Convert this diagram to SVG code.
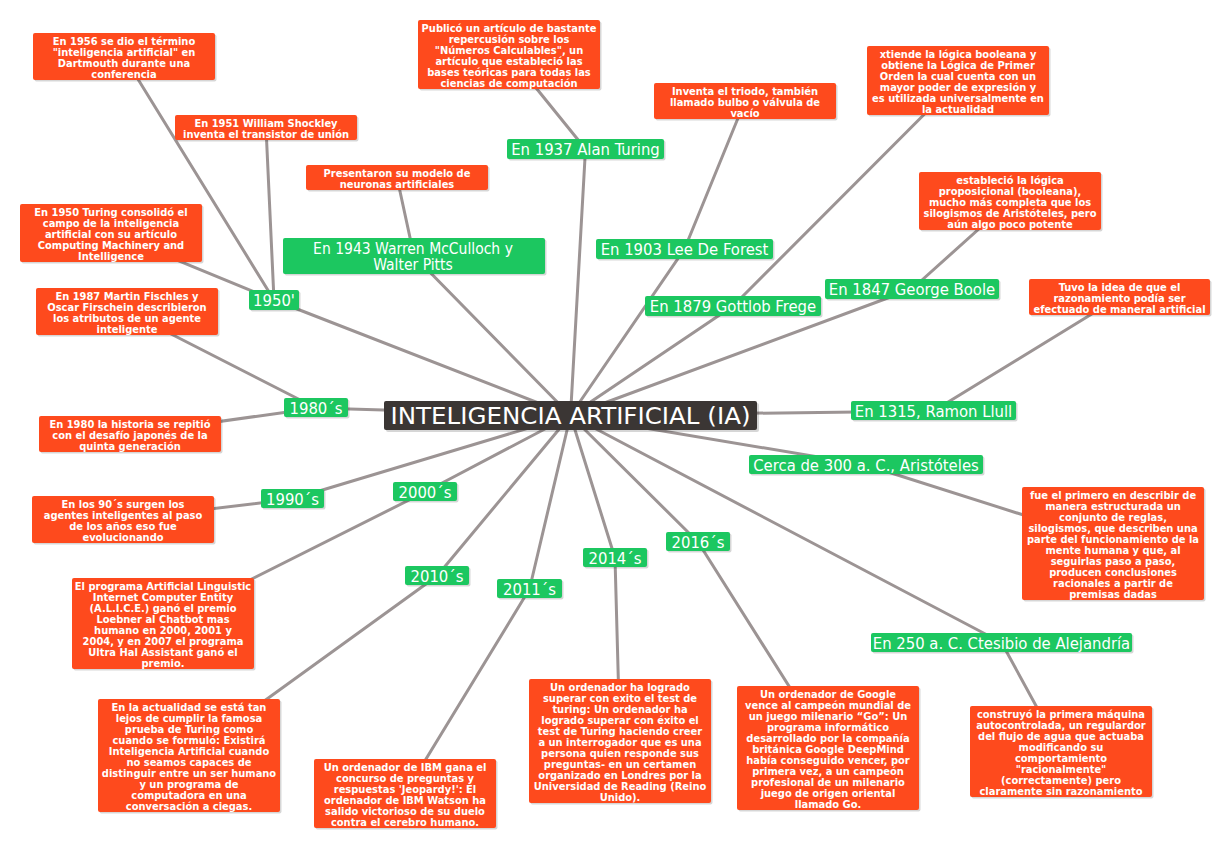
<svg xmlns="http://www.w3.org/2000/svg" width="1230" height="849" viewBox="0 0 1230 849">
<style>
text{font-family:"DejaVu Sans Condensed","DejaVu Sans",sans-serif;font-stretch:condensed;fill:#fff;text-anchor:middle}
.c line{stroke:#9c9494;stroke-width:3;stroke-linecap:round}
.o{fill:#fe4a1d}
.g{fill:#1cc760}
.k{fill:#3b3634}
.s{fill:#000;opacity:.16}
.ot{font-size:11px;font-weight:bold}
.gt{font-size:16.5px}
.wt{font-size:15.5px}
</style>
<rect width="1230" height="849" fill="#fff"/>
<g class="c" id="connectors">
<line x1="570.5" y1="415.5" x2="274" y2="300"/>
<line x1="570.5" y1="415.5" x2="414" y2="256"/>
<line x1="570.5" y1="415.5" x2="585.5" y2="149"/>
<line x1="570.5" y1="415.5" x2="684.5" y2="249"/>
<line x1="570.5" y1="415.5" x2="733" y2="306"/>
<line x1="570.5" y1="415.5" x2="912" y2="289"/>
<line x1="570.5" y1="415.5" x2="933.5" y2="411"/>
<line x1="570.5" y1="415.5" x2="866" y2="465"/>
<line x1="570.5" y1="415.5" x2="1001.5" y2="642.5"/>
<line x1="570.5" y1="415.5" x2="316" y2="408"/>
<line x1="570.5" y1="415.5" x2="292.5" y2="499"/>
<line x1="570.5" y1="415.5" x2="425" y2="492"/>
<line x1="570.5" y1="415.5" x2="437" y2="576"/>
<line x1="570.5" y1="415.5" x2="529.5" y2="589"/>
<line x1="570.5" y1="415.5" x2="615" y2="558"/>
<line x1="570.5" y1="415.5" x2="698" y2="542"/>
<line x1="274" y1="300" x2="124" y2="56.5"/>
<line x1="274" y1="300" x2="266" y2="127.5"/>
<line x1="274" y1="300" x2="111" y2="233"/>
<line x1="414" y1="256" x2="397" y2="177.5"/>
<line x1="585.5" y1="149" x2="509" y2="54.5"/>
<line x1="684.5" y1="249" x2="745" y2="101"/>
<line x1="733" y1="306" x2="958" y2="80.5"/>
<line x1="912" y1="289" x2="1010" y2="201"/>
<line x1="933.5" y1="411" x2="1119.5" y2="297"/>
<line x1="866" y1="465" x2="1113" y2="543.5"/>
<line x1="1001.5" y1="642.5" x2="1061" y2="751.5"/>
<line x1="316" y1="408" x2="127" y2="311.5"/>
<line x1="316" y1="408" x2="130" y2="434"/>
<line x1="292.5" y1="499" x2="123" y2="519.5"/>
<line x1="425" y1="492" x2="163" y2="623.5"/>
<line x1="437" y1="576" x2="189" y2="755.5"/>
<line x1="529.5" y1="589" x2="405" y2="793.5"/>
<line x1="615" y1="558" x2="620" y2="741"/>
<line x1="698" y1="542" x2="828" y2="748"/>
</g>

<g id="center">
<rect class="s" x="386" y="403" width="373" height="29" rx="2"/>
<rect class="k" x="384" y="401" width="373" height="29" rx="2"/>
<text x="570.5" y="424" font-size="23" textLength="360" lengthAdjust="spacingAndGlyphs">INTELIGENCIA ARTIFICIAL (IA)</text>
</g>

<g id="n1950">
<rect class="s" x="250.5" y="291.5" width="50" height="20" rx="2"/>
<rect class="g" x="249" y="290" width="50" height="20" rx="2"/>
<text class="gt" x="274" y="306">1950'</text>
</g>
<g id="nWarren">
<rect class="s" x="284.5" y="239.5" width="262" height="36" rx="2"/>
<rect class="g" x="283" y="238" width="262" height="36" rx="2"/>
<text class="wt" x="413" y="254">En 1943 Warren McCulloch y</text>
<text class="wt" x="413" y="270">Walter Pitts</text>
</g>
<g id="nTuring">
<rect class="s" x="508.5" y="140.5" width="157" height="20" rx="2"/>
<rect class="g" x="507" y="139" width="157" height="20" rx="2"/>
<text class="gt" x="585.5" y="155">En 1937 Alan Turing</text>
</g>
<g id="nForest">
<rect class="s" x="597.5" y="240.5" width="177" height="20" rx="2"/>
<rect class="g" x="596" y="239" width="177" height="20" rx="2"/>
<text class="gt" x="684.5" y="255">En 1903 Lee De Forest</text>
</g>
<g id="nFrege">
<rect class="s" x="646.5" y="297.5" width="176" height="20" rx="2"/>
<rect class="g" x="645" y="296" width="176" height="20" rx="2"/>
<text class="gt" x="733" y="312">En 1879 Gottlob Frege</text>
</g>
<g id="nBoole">
<rect class="s" x="826.5" y="280.5" width="174" height="20" rx="2"/>
<rect class="g" x="825" y="279" width="174" height="20" rx="2"/>
<text class="gt" x="912" y="295">En 1847 George Boole</text>
</g>
<g id="nLlull">
<rect class="s" x="852.5" y="402.5" width="165" height="19" rx="2"/>
<rect class="g" x="851" y="401" width="165" height="19" rx="2"/>
<text class="gt" x="933.5" y="416.5">En 1315, Ramon Llull</text>
</g>
<g id="nAristoteles">
<rect class="s" x="750.5" y="456.5" width="234" height="19" rx="2"/>
<rect class="g" x="749" y="455" width="234" height="19" rx="2"/>
<text class="gt" x="866" y="470.5">Cerca de 300 a. C., Aristóteles</text>
</g>
<g id="nCtesibio">
<rect class="s" x="872.5" y="634.5" width="261" height="19" rx="2"/>
<rect class="g" x="871" y="633" width="261" height="19" rx="2"/>
<text class="gt" x="1001.5" y="648.5">En 250 a. C. Ctesibio de Alejandría</text>
</g>
<g id="n1980s">
<rect class="s" x="285.5" y="399.5" width="64" height="19" rx="2"/>
<rect class="g" x="284" y="398" width="64" height="19" rx="2"/>
<text class="gt" x="316" y="413.5">1980´s</text>
</g>
<g id="n1990s">
<rect class="s" x="262.5" y="490.5" width="63" height="19" rx="2"/>
<rect class="g" x="261" y="489" width="63" height="19" rx="2"/>
<text class="gt" x="292.5" y="504.5">1990´s</text>
</g>
<g id="n2000s">
<rect class="s" x="394.5" y="483.5" width="64" height="19" rx="2"/>
<rect class="g" x="393" y="482" width="64" height="19" rx="2"/>
<text class="gt" x="425" y="497.5">2000´s</text>
</g>
<g id="n2010s">
<rect class="s" x="406.5" y="567.5" width="64" height="19" rx="2"/>
<rect class="g" x="405" y="566" width="64" height="19" rx="2"/>
<text class="gt" x="437" y="581.5">2010´s</text>
</g>
<g id="n2011s">
<rect class="s" x="498.5" y="580.5" width="65" height="19" rx="2"/>
<rect class="g" x="497" y="579" width="65" height="19" rx="2"/>
<text class="gt" x="529.5" y="594.5">2011´s</text>
</g>
<g id="n2014s">
<rect class="s" x="584.5" y="549.5" width="64" height="19" rx="2"/>
<rect class="g" x="583" y="548" width="64" height="19" rx="2"/>
<text class="gt" x="615" y="563.5">2014´s</text>
</g>
<g id="n2016s">
<rect class="s" x="667.5" y="533.5" width="64" height="19" rx="2"/>
<rect class="g" x="666" y="532" width="64" height="19" rx="2"/>
<text class="gt" x="698" y="547.5">2016´s</text>
</g>

<g id="t1956">
<rect class="s" x="34.5" y="34.5" width="182" height="47" rx="2"/>
<rect class="o" x="33" y="33" width="182" height="47" rx="2"/>
<text class="ot" x="124" y="45">En 1956 se dio el término</text>
<text class="ot" x="124" y="56">"inteligencia artificial" en</text>
<text class="ot" x="124" y="67">Dartmouth durante una</text>
<text class="ot" x="124" y="78">conferencia</text>
</g>
<g id="t1951">
<rect class="s" x="176.5" y="116.5" width="182" height="25" rx="2"/>
<rect class="o" x="175" y="115" width="182" height="25" rx="2"/>
<text class="ot" x="266" y="127">En 1951 William Shockley</text>
<text class="ot" x="266" y="138">inventa el transistor de unión</text>
</g>
<g id="tPresentaron">
<rect class="s" x="307.5" y="166.5" width="182" height="25" rx="2"/>
<rect class="o" x="306" y="165" width="182" height="25" rx="2"/>
<text class="ot" x="397" y="177">Presentaron su modelo de</text>
<text class="ot" x="397" y="188">neuronas artificiales</text>
</g>
<g id="t1950T">
<rect class="s" x="21.5" y="205.5" width="182" height="58" rx="2"/>
<rect class="o" x="20" y="204" width="182" height="58" rx="2"/>
<text class="ot" x="111" y="216">En 1950 Turing consolidó el</text>
<text class="ot" x="111" y="227">campo de la inteligencia</text>
<text class="ot" x="111" y="238">artificial con su artículo</text>
<text class="ot" x="111" y="249">Computing Machinery and</text>
<text class="ot" x="111" y="260">Intelligence</text>
</g>
<g id="t1987">
<rect class="s" x="37.5" y="289.5" width="182" height="47" rx="2"/>
<rect class="o" x="36" y="288" width="182" height="47" rx="2"/>
<text class="ot" x="127" y="300">En 1987 Martin Fischles y</text>
<text class="ot" x="127" y="311">Oscar Firschein describieron</text>
<text class="ot" x="127" y="322">los atributos de un agente</text>
<text class="ot" x="127" y="333">inteligente</text>
</g>
<g id="t1980">
<rect class="s" x="40.5" y="417.5" width="182" height="36" rx="2"/>
<rect class="o" x="39" y="416" width="182" height="36" rx="2"/>
<text class="ot" x="130" y="428">En 1980 la historia se repitió</text>
<text class="ot" x="130" y="439">con el desafío japonés de la</text>
<text class="ot" x="130" y="450">quinta generación</text>
</g>
<g id="t90s">
<rect class="s" x="33.5" y="497.5" width="182" height="47" rx="2"/>
<rect class="o" x="32" y="496" width="182" height="47" rx="2"/>
<text class="ot" x="123" y="508">En los 90´s surgen los</text>
<text class="ot" x="123" y="519">agentes inteligentes al paso</text>
<text class="ot" x="123" y="530">de los años eso fue</text>
<text class="ot" x="123" y="541">evolucionando</text>
</g>
<g id="tAlice">
<rect class="s" x="73.5" y="579.5" width="182" height="91" rx="2"/>
<rect class="o" x="72" y="578" width="182" height="91" rx="2"/>
<text class="ot" x="163" y="590">El programa Artificial Linguistic</text>
<text class="ot" x="163" y="601">Internet Computer Entity</text>
<text class="ot" x="163" y="612">(A.L.I.C.E.) ganó el premio</text>
<text class="ot" x="163" y="623">Loebner al Chatbot mas</text>
<text class="ot" x="163" y="634">humano en 2000, 2001 y</text>
<text class="ot" x="163" y="645">2004, y en 2007 el programa</text>
<text class="ot" x="163" y="656">Ultra Hal Assistant ganó el</text>
<text class="ot" x="163" y="667">premio.</text>
</g>
<g id="tActualidad">
<rect class="s" x="99.5" y="700.5" width="182" height="113" rx="2"/>
<rect class="o" x="98" y="699" width="182" height="113" rx="2"/>
<text class="ot" x="189" y="711">En la actualidad se está tan</text>
<text class="ot" x="189" y="722">lejos de cumplir la famosa</text>
<text class="ot" x="189" y="733">prueba de Turing como</text>
<text class="ot" x="189" y="744">cuando se formuló: Existirá</text>
<text class="ot" x="189" y="755">Inteligencia Artificial cuando</text>
<text class="ot" x="189" y="766">no seamos capaces de</text>
<text class="ot" x="189" y="777">distinguir entre un ser humano</text>
<text class="ot" x="189" y="788">y un programa de</text>
<text class="ot" x="189" y="799">computadora en una</text>
<text class="ot" x="189" y="810">conversación a ciegas.</text>
</g>
<g id="tIBM">
<rect class="s" x="315.5" y="760.5" width="182" height="69" rx="2"/>
<rect class="o" x="314" y="759" width="182" height="69" rx="2"/>
<text class="ot" x="405" y="771">Un ordenador de IBM gana el</text>
<text class="ot" x="405" y="782">concurso de preguntas y</text>
<text class="ot" x="405" y="793">respuestas 'Jeopardy!': El</text>
<text class="ot" x="405" y="804">ordenador de IBM Watson ha</text>
<text class="ot" x="405" y="815">salido victorioso de su duelo</text>
<text class="ot" x="405" y="826">contra el cerebro humano.</text>
</g>
<g id="t2014">
<rect class="s" x="530.5" y="680.5" width="182" height="124" rx="2"/>
<rect class="o" x="529" y="679" width="182" height="124" rx="2"/>
<text class="ot" x="620" y="691">Un ordenador ha logrado</text>
<text class="ot" x="620" y="702">superar con exito el test de</text>
<text class="ot" x="620" y="713">turing: Un ordenador ha</text>
<text class="ot" x="620" y="724">logrado superar con éxito el</text>
<text class="ot" x="620" y="735">test de Turing haciendo creer</text>
<text class="ot" x="620" y="746">a un interrogador que es una</text>
<text class="ot" x="620" y="757">persona quien responde sus</text>
<text class="ot" x="620" y="768">preguntas- en un certamen</text>
<text class="ot" x="620" y="779">organizado en Londres por la</text>
<text class="ot" x="620" y="790">Universidad de Reading (Reino</text>
<text class="ot" x="620" y="801">Unido).</text>
</g>
<g id="tGoogle">
<rect class="s" x="738.5" y="687.5" width="182" height="124" rx="2"/>
<rect class="o" x="737" y="686" width="182" height="124" rx="2"/>
<text class="ot" x="828" y="698">Un ordenador de Google</text>
<text class="ot" x="828" y="709">vence al campeón mundial de</text>
<text class="ot" x="828" y="720">un juego milenario “Go”: Un</text>
<text class="ot" x="828" y="731">programa informático</text>
<text class="ot" x="828" y="742">desarrollado por la compañía</text>
<text class="ot" x="828" y="753">británica Google DeepMind</text>
<text class="ot" x="828" y="764">había conseguido vencer, por</text>
<text class="ot" x="828" y="775">primera vez, a un campeón</text>
<text class="ot" x="828" y="786">profesional de un milenario</text>
<text class="ot" x="828" y="797">juego de origen oriental</text>
<text class="ot" x="828" y="808">llamado Go.</text>
</g>
<g id="tConstruyo">
<rect class="s" x="971.5" y="707.5" width="182" height="91" rx="2"/>
<rect class="o" x="970" y="706" width="182" height="91" rx="2"/>
<text class="ot" x="1061" y="718">construyó la primera máquina</text>
<text class="ot" x="1061" y="729">autocontrolada, un regulardor</text>
<text class="ot" x="1061" y="740">del flujo de agua que actuaba</text>
<text class="ot" x="1061" y="751">modificando su</text>
<text class="ot" x="1061" y="762">comportamiento</text>
<text class="ot" x="1061" y="773">"racionalmente"</text>
<text class="ot" x="1061" y="784">(correctamente) pero</text>
<text class="ot" x="1061" y="795">claramente sin razonamiento</text>
</g>
<g id="tFue">
<rect class="s" x="1023.5" y="488.5" width="182" height="113" rx="2"/>
<rect class="o" x="1022" y="487" width="182" height="113" rx="2"/>
<text class="ot" x="1113" y="499">fue el primero en describir de</text>
<text class="ot" x="1113" y="510">manera estructurada un</text>
<text class="ot" x="1113" y="521">conjunto de reglas,</text>
<text class="ot" x="1113" y="532">silogismos, que describen una</text>
<text class="ot" x="1113" y="543">parte del funcionamiento de la</text>
<text class="ot" x="1113" y="554">mente humana y que, al</text>
<text class="ot" x="1113" y="565">seguirlas paso a paso,</text>
<text class="ot" x="1113" y="576">producen conclusiones</text>
<text class="ot" x="1113" y="587">racionales a partir de</text>
<text class="ot" x="1113" y="598">premisas dadas</text>
</g>
<g id="tTuvo">
<rect class="s" x="1030.5" y="280.5" width="181" height="36" rx="2"/>
<rect class="o" x="1029" y="279" width="181" height="36" rx="2"/>
<text class="ot" x="1119.5" y="291">Tuvo la idea de que el</text>
<text class="ot" x="1119.5" y="302">razonamiento podía ser</text>
<text class="ot" x="1119.5" y="313">efectuado de maneral artificial</text>
</g>
<g id="tEstablecio">
<rect class="s" x="920.5" y="173.5" width="182" height="58" rx="2"/>
<rect class="o" x="919" y="172" width="182" height="58" rx="2"/>
<text class="ot" x="1010" y="184">estableció la lógica</text>
<text class="ot" x="1010" y="195">proposicional (booleana),</text>
<text class="ot" x="1010" y="206">mucho más completa que los</text>
<text class="ot" x="1010" y="217">silogismos de Aristóteles, pero</text>
<text class="ot" x="1010" y="228">aún algo poco potente</text>
</g>
<g id="tXtiende">
<rect class="s" x="868.5" y="47.5" width="182" height="69" rx="2"/>
<rect class="o" x="867" y="46" width="182" height="69" rx="2"/>
<text class="ot" x="958" y="58">xtiende la lógica booleana y</text>
<text class="ot" x="958" y="69">obtiene la Lógica de Primer</text>
<text class="ot" x="958" y="80">Orden la cual cuenta con un</text>
<text class="ot" x="958" y="91">mayor poder de expresión y</text>
<text class="ot" x="958" y="102">es utilizada universalmente en</text>
<text class="ot" x="958" y="113">la actualidad</text>
</g>
<g id="tInventa">
<rect class="s" x="655.5" y="84.5" width="182" height="36" rx="2"/>
<rect class="o" x="654" y="83" width="182" height="36" rx="2"/>
<text class="ot" x="745" y="95">Inventa el triodo, también</text>
<text class="ot" x="745" y="106">llamado bulbo o válvula de</text>
<text class="ot" x="745" y="117">vacío</text>
</g>
<g id="tPublico">
<rect class="s" x="419.5" y="21.5" width="182" height="69" rx="2"/>
<rect class="o" x="418" y="20" width="182" height="69" rx="2"/>
<text class="ot" x="509" y="32">Publicó un artículo de bastante</text>
<text class="ot" x="509" y="43">repercusión sobre los</text>
<text class="ot" x="509" y="54">"Números Calculables", un</text>
<text class="ot" x="509" y="65">artículo que estableció las</text>
<text class="ot" x="509" y="76">bases teóricas para todas las</text>
<text class="ot" x="509" y="87">ciencias de computación</text>
</g>
</svg>
